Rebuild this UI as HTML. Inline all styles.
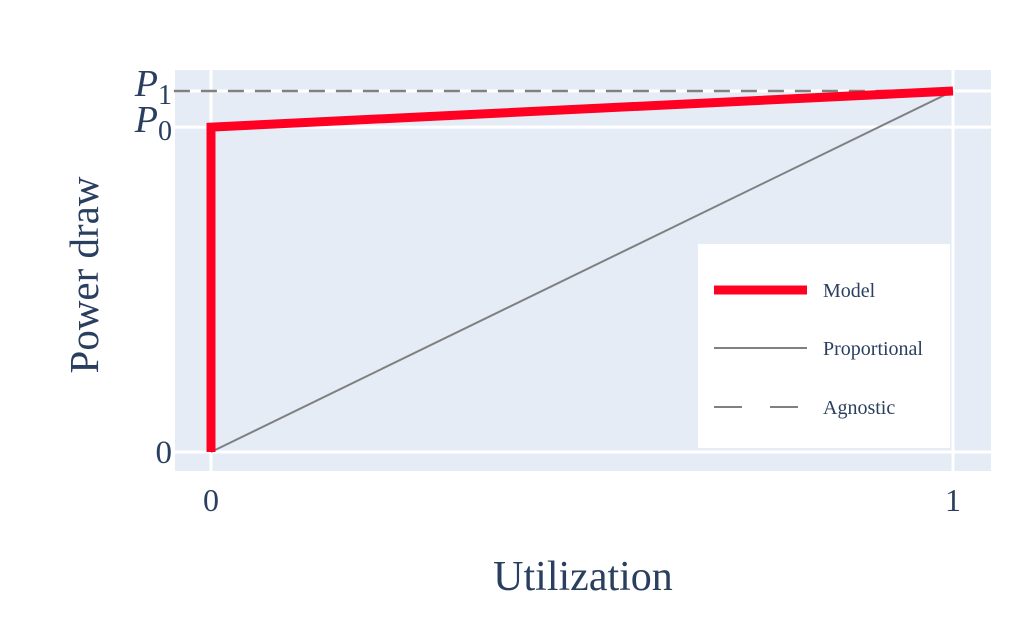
<!DOCTYPE html>
<html><head><meta charset="utf-8"><style>
body{margin:0;background:#fff}
svg text{font-family:"Liberation Serif",serif;fill:#2a3f5f}
</style></head><body>
<svg id="c" width="1034" height="617">
<rect x="175" y="70" width="816" height="401" fill="#e5ecf6"/>
<g id="grid"></g>
<g id="series"></g>
<g>
<rect x="698" y="244" width="252" height="204" fill="#fff"/>
<line x1="714" y1="290" x2="807" y2="290" stroke="#ff0022" stroke-width="9"/>
<text x="823" y="297" font-size="20">Model</text>
<line x1="714" y1="348" x2="807" y2="348" stroke="#808080" stroke-width="2"/>
<text x="823" y="355" font-size="20">Proportional</text>
<line x1="714" y1="407" x2="807" y2="407" stroke="#808080" stroke-width="2" stroke-dasharray="28,28"/>
<text x="823" y="414" font-size="20">Agnostic</text>
</g>
<g id="ticks"></g>
<text x="583" y="590" font-size="42" text-anchor="middle">Utilization</text>
<text transform="translate(98,275) rotate(-90)" font-size="41" text-anchor="middle">Power draw</text>
</svg>
<script>
const xTicks=[0,1];
const xTickLabels=["0","1"];
const yTicks=[0,0.9,1.0];
const yTickLabels=["0","P0","P1"];
const modelX=[0,0,1];
const modelY=[0,0.9,1.0];
const propX=[0,1];
const propY=[0,1.0];
const agnX=[-0.05,1];
const agnY=[1.0,1.0];
const X=v=>211+v*742, Y=v=>452-v*361;
const NS="http://www.w3.org/2000/svg";
function mk(t,a,p){const e=document.createElementNS(NS,t);for(const k in a)e.setAttribute(k,a[k]);p.appendChild(e);return e;}
const grid=document.getElementById('grid'),ser=document.getElementById('series'),tk=document.getElementById('ticks');
xTicks.forEach((v,i)=>{
 const l=mk('line',{x1:X(v),x2:X(v),y1:70,y2:471,stroke:'#fff','stroke-width':3},grid);
 
 
 const t=mk('text',{x:X(v),y:511,'font-size':32,'text-anchor':'middle'},tk);t.textContent=xTickLabels[i];
 
 
});
yTicks.forEach((v,i)=>{
 const l=mk('line',{x1:175,x2:991,y1:Y(v),y2:Y(v),stroke:'#fff','stroke-width':3},grid);
 
 
 const s=yTickLabels[i];
 const t=mk('text',{x:172,y:Y(v)+11,'font-size':33,'text-anchor':'end'},tk);
 
 
 if(s.length>1){
  const a=mk('tspan',{'font-style':'italic','font-size':38},t);a.textContent=s[0];
  const b=mk('tspan',{'font-size':28,dy:8},t);b.textContent=s.slice(1);
  t.setAttribute('y',Y(v)+5);
 } else t.textContent=s;
});
function path(xs,ys){return xs.map((x,i)=>(i?'L':'M')+X(x)+','+Y(ys[i])).join(' ');}
const a=mk('path',{d:path(agnX,agnY),stroke:'#808080','stroke-width':2.5,fill:'none','stroke-dasharray':'16,11'},ser);


const p=mk('path',{d:path(propX,propY),stroke:'#808080','stroke-width':2,fill:'none'},ser);


const m=mk('path',{d:path(modelX,modelY),stroke:'#ff0022','stroke-width':9,fill:'none'},ser);


</script>
</body></html>
